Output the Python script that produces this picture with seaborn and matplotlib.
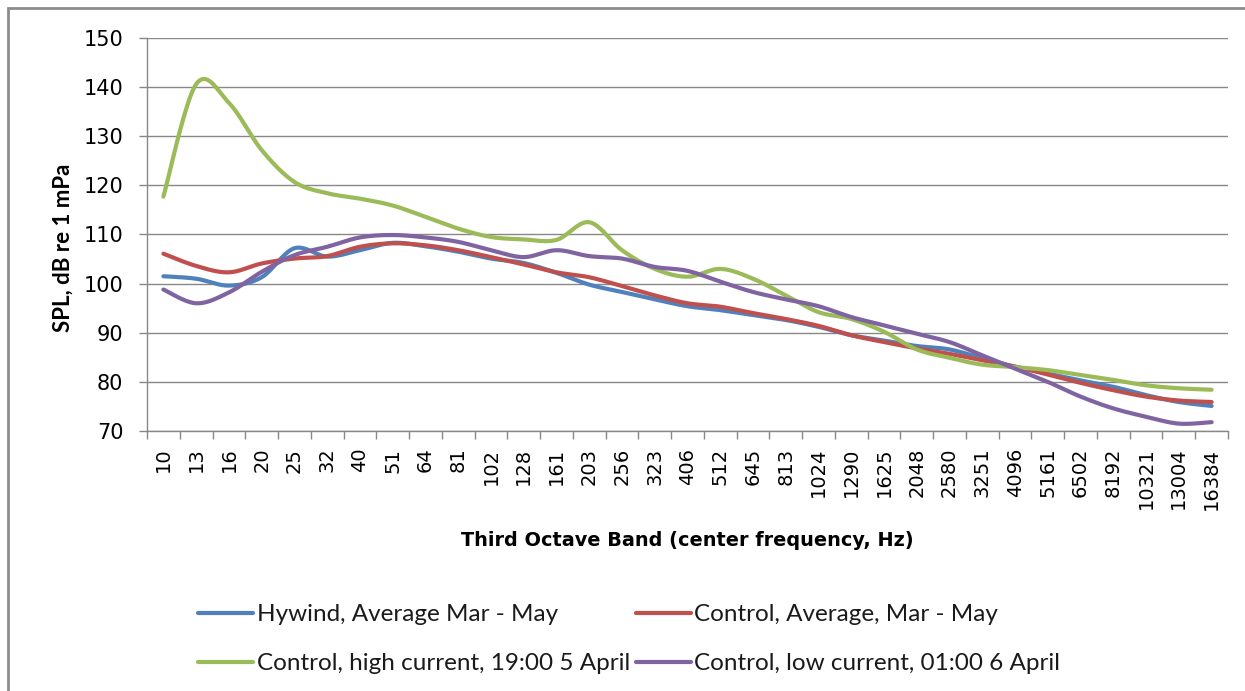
import numpy as np
import pandas as pd
import matplotlib
matplotlib.use("Agg")
import matplotlib.pyplot as plt
import seaborn as sns
from matplotlib.patches import Rectangle

# Third-octave band centre frequencies (Hz)
bands = ["10", "13", "16", "20", "25", "32", "40", "51", "64", "81", "102", "128",
         "161", "203", "256", "323", "406", "512", "645", "813", "1024", "1290",
         "1625", "2048", "2580", "3251", "4096", "5161", "6502", "8192", "10321",
         "13004", "16384"]

# SPL (dB re 1 uPa) per band
hywind_avg = [101.5, 101.0, 99.6, 101.3, 107.2, 105.5, 106.8, 108.3, 107.6, 106.5,
              105.1, 104.2, 102.2, 99.8, 98.3, 96.8, 95.4, 94.6, 93.6, 92.6,
              91.2, 89.5, 88.4, 87.3, 86.6, 84.8, 83.1, 81.7, 80.3, 79.0,
              77.3, 75.9, 75.1]
control_avg = [106.1, 103.6, 102.3, 104.1, 105.1, 105.6, 107.5, 108.2, 107.8, 106.8,
               105.4, 103.9, 102.3, 101.3, 99.5, 97.6, 96.0, 95.3, 94.0, 92.8,
               91.4, 89.5, 88.1, 86.8, 85.7, 84.4, 83.1, 81.5, 79.8, 78.3,
               77.0, 76.2, 75.9]
control_high = [117.7, 140.6, 136.8, 127.2, 120.7, 118.4, 117.3, 115.9, 113.6, 111.2,
                109.5, 109.0, 108.9, 112.5, 106.8, 103.0, 101.4, 103.0, 101.0, 97.6,
                94.2, 92.8, 90.2, 86.6, 84.9, 83.5, 83.0, 82.4, 81.4, 80.4,
                79.3, 78.7, 78.4]
control_low = [98.8, 96.0, 98.2, 102.4, 105.8, 107.5, 109.4, 109.9, 109.4, 108.5,
               106.8, 105.4, 106.8, 105.6, 105.1, 103.4, 102.6, 100.4, 98.3, 96.8,
               95.4, 93.2, 91.5, 89.8, 88.1, 85.4, 82.7, 80.0, 77.0, 74.6,
               72.9, 71.5, 71.8]

labels = ["Hywind, Average Mar - May", "Control, Average, Mar - May",
          "Control, high current, 19:00 5 April", "Control, low current, 01:00 6 April"]
colors = ["#4F81BD", "#C0504D", "#9BBB59", "#8064A2"]
series = [hywind_avg, control_avg, control_high, control_low]


def smooth(y, steps=20):
    """Bezier curve through the band values (spreadsheet-style smoothed line)."""
    y = np.asarray(y, float)
    x = np.arange(len(y), dtype=float)
    px = np.concatenate([[x[0]], x, [x[-1]]])
    py = np.concatenate([[y[0]], y, [y[-1]]])
    xs, ys = [], []
    t = np.linspace(0, 1, steps, endpoint=False)
    for i in range(1, len(px) - 2):
        for arr, out in ((px, xs), (py, ys)):
            a, b, c, d = arr[i - 1], arr[i], arr[i + 1], arr[i + 2]
            c1 = b + (c - a) / 6.0
            c2 = c - (d - b) / 6.0
            out.extend((1 - t) ** 3 * b + 3 * (1 - t) ** 2 * t * c1
                       + 3 * (1 - t) * t ** 2 * c2 + t ** 3 * c)
    xs.append(x[-1]); ys.append(y[-1])
    return np.array(xs), np.array(ys)


frames = []
for lab, vals in zip(labels, series):
    sx, sy = smooth(vals)
    frames.append(pd.DataFrame({"pos": sx, "spl": sy, "series": lab}))
df = pd.concat(frames, ignore_index=True)

sns.set_theme(style="white")
plt.rcParams["font.family"] = ["DejaVu Sans"]

fig = plt.figure(figsize=(12.45, 6.91), dpi=100)
ax = fig.add_axes([147 / 1245, 1 - 431 / 691, (1228 - 147) / 1245, (431 - 38) / 691])

sns.lineplot(data=df, x="pos", y="spl", hue="series", hue_order=labels,
             palette=colors, sort=False, estimator=None,
             linewidth=3.0, ax=ax, legend=False)

grid_c = "#888888"
ax.set_xlim(-0.5, len(bands) - 0.5)
ax.set_ylim(70, 150)
ax.set_yticks(np.arange(70, 151, 10))
ax.yaxis.grid(True, color=grid_c, linewidth=1.0)
ax.xaxis.grid(False)
ax.set_axisbelow(True)

ax.set_xticks(np.arange(len(bands)))
ax.set_xticklabels(bands, rotation=90, fontsize=14)
ax.set_xticks(np.arange(-0.5, len(bands)), minor=True)
ax.tick_params(axis="x", which="major", length=0, pad=12, labelcolor="#000000")
ax.tick_params(axis="x", which="minor", length=6, width=1, color=grid_c, direction="out", bottom=True)
ax.tick_params(axis="y", which="major", length=6, width=1, color=grid_c, direction="out",
               left=True, pad=11, labelsize=15, labelcolor="#000000")

for s in ("top", "right"):
    ax.spines[s].set_visible(False)
for s in ("left", "bottom"):
    ax.spines[s].set_color(grid_c)
    ax.spines[s].set_linewidth(1.0)

ax.set_xlabel("Third Octave Band (center frequency, Hz)", fontsize=13.9, fontweight="bold",
              color="#000000")
ax.set_ylabel("SPL, dB re 1 mPa", fontsize=16, fontweight="bold", family=["Lato", "DejaVu Sans"],
              color="#000000")
ax.xaxis.set_label_coords(0.5, (431 - 541) / (431 - 38))
ax.xaxis.label.set_va("center")
ax.yaxis.set_label_coords((63 - 147) / (1228 - 147), (431 - 248) / (431 - 38))
ax.yaxis.label.set_va("center")

# legend filled row by row: (blue, red) on top, (green, purple) below
order = [0, 2, 1, 3]
handles = [plt.Line2D([], [], color=colors[i], linewidth=3.0) for i in order]
leg = fig.legend(handles, [labels[i] for i in order], ncol=2, loc="upper left",
                 bbox_to_anchor=(198 / 1245, 1 - 604 / 691), borderaxespad=0, borderpad=0,
                 frameon=False, prop={"family": ["Lato", "DejaVu Sans"], "size": 17.5},
                 handlelength=2.25, handletextpad=0.16, columnspacing=0.25, labelspacing=1.17)
for txt in leg.get_texts():
    txt.set_color("#1a1a1a")

# chart-area border
fig.patches.append(Rectangle((8 / 1245, -0.1), 1.2, 1 - 8 / 691 + 0.1, transform=fig.transFigure,
                             fill=False, edgecolor="#8c8c8c", linewidth=2.0))

fig.savefig("out.png", dpi=100, facecolor="white")
